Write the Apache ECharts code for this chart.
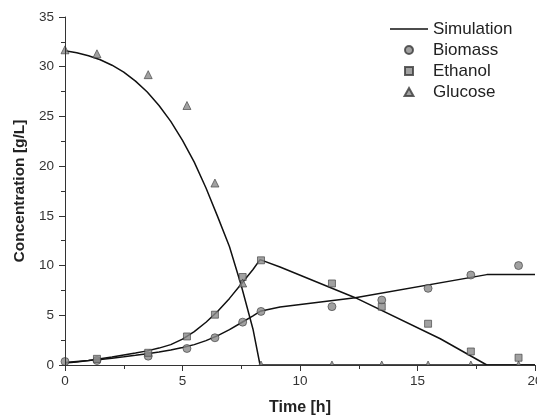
<!DOCTYPE html>
<html>
<head>
<meta charset="utf-8">
<script src="https://cdn.jsdelivr.net/npm/echarts@6/dist/echarts.min.js"></script>
<style>
html,body{margin:0;padding:0;background:#fff;}
#chart{width:537px;height:418px;}
</style>
</head>
<body>
<div id="chart"></div>
<script>
// Measured sample times [h]
var expTime = [0, 1.36, 3.54, 5.19, 6.38, 7.56, 8.34, 11.36, 13.48, 15.45, 17.27, 19.3];
var biomass = [0.35, 0.45, 0.89, 1.66, 2.74, 4.31, 5.39, 5.87, 6.53, 7.71, 9.05, 10.0];
var ethanol = [null, 0.62, 1.23, 2.87, 5.06, 8.85, 10.53, 8.2, 5.86, 4.15, 1.36, 0.73];
var glucose = [31.7, 31.3, 29.2, 26.1, 18.3, 8.25, 0, 0, 0, 0, 0, 0];

// Simulation curves (growth phase)
var simTimeGrowth = [0, 0.5, 1, 1.5, 2, 2.5, 3, 3.5, 4, 4.5, 5, 5.5, 6, 6.5, 7, 7.5, 8, 8.3];
var simGlucoseGrowth = [31.6, 31.4, 31.1, 30.7, 30.15, 29.45, 28.55, 27.45, 26.1, 24.5, 22.6, 20.4, 17.8, 14.9, 11.9, 8.0, 3.6, 0];
var simEthanolGrowth = [0.2, 0.3, 0.45, 0.62, 0.8, 1.0, 1.2, 1.42, 1.7, 2.05, 2.6, 3.35, 4.3, 5.4, 6.7, 8.15, 9.6, 10.6];
var simBiomassGrowth = [0.25, 0.35, 0.45, 0.56, 0.68, 0.82, 0.97, 1.13, 1.3, 1.5, 1.75, 2.05, 2.45, 2.95, 3.55, 4.25, 4.95, 5.4];

// Simulation after glucose depletion
var simTimeLateGlc = [8.3, 20];
var simGlucoseLate = [0, 0];
var simTimeLateEth = [8.3, 9.15, 12.35, 15.97, 17.95, 20];
var simEthanolLate = [10.6, 9.86, 6.77, 2.64, 0, 0];
var simTimeLateBio = [8.3, 9.15, 12.35, 17.95, 20];
var simBiomassLate = [5.4, 5.83, 6.77, 9.09, 9.09];

var xTicks = [0, 5, 10, 15, 20];
var yTicks = [0, 5, 10, 15, 20, 25, 30, 35];

function pairs(t, v) {
  var out = [];
  for (var i = 0; i < t.length; i++) {
    if (v[i] !== null && v[i] !== undefined) out.push([t[i], v[i]]);
  }
  return out;
}

var FONT = 'Liberation Sans, Arial, Helvetica, sans-serif';
var lineStyleSim = {color: '#111', width: 1.5};

function simSeries(t, v) {
  return {
    name: 'Simulation', type: 'line', data: pairs(t, v), showSymbol: false, symbol: 'none',
    smooth: false, lineStyle: lineStyleSim, itemStyle: {color: '#111'}, z: 2, silent: true
  };
}
var markerStyle = {color: '#8a8a8a', borderColor: '#3a3a3a', borderWidth: 0.8};

var chart = echarts.init(document.getElementById('chart'), null, {renderer: 'canvas'});
chart.setOption({
  animation: false,
  backgroundColor: '#fff',
  textStyle: {fontFamily: FONT},
  grid: {left: 65, right: 2, top: 17, bottom: 53, containLabel: false, outerBoundsMode: 'none'},
  legend: {
    left: 390, top: 20.5, padding: 0, orient: 'vertical', itemWidth: 38, itemHeight: 8, itemGap: 4,
    symbolKeepAspect: true,
    textStyle: {fontFamily: FONT, fontSize: 17, color: '#222', lineHeight: 17},
    data: [
      {name: 'Simulation', icon: 'path://M0,0L38,0L38,1.5L0,1.5Z', itemStyle: {color: '#111', borderWidth: 0}},
      {name: 'Biomass', icon: 'path://M5,0A5,5,0,1,1,4.99,0Z'},
      {name: 'Ethanol', icon: 'path://M0,0L9,0L9,9L0,9Z'},
      {name: 'Glucose', icon: 'path://M5,0L10,9L0,9Z'}
    ]
  },
  xAxis: {
    type: 'value', min: xTicks[0], max: xTicks[xTicks.length - 1], interval: 5, z: 10,
    name: 'Time [h]', nameLocation: 'middle', nameGap: 35,
    nameTextStyle: {fontFamily: FONT, fontSize: 16, fontWeight: 'bold', color: '#222'},
    axisLine: {show: true, lineStyle: {color: '#333', width: 1}},
    axisTick: {show: true, inside: false, length: 6, lineStyle: {color: '#333'}},
    minorTick: {show: true, splitNumber: 2, length: 4, lineStyle: {color: '#333'}},
    axisLabel: {fontFamily: FONT, fontSize: 13.5, color: '#333', margin: 9, showMaxLabel: true},
    splitLine: {show: false}
  },
  yAxis: {
    type: 'value', min: yTicks[0], max: yTicks[yTicks.length - 1], interval: 5, z: 10,
    name: 'Concentration [g/L]', nameLocation: 'middle', nameGap: 37,
    nameTextStyle: {fontFamily: FONT, fontSize: 15.5, fontWeight: 'bold', color: '#222'},
    axisLine: {show: true, lineStyle: {color: '#333', width: 1}},
    axisTick: {show: true, inside: false, length: 6, lineStyle: {color: '#333'}},
    minorTick: {show: true, splitNumber: 2, length: 4, lineStyle: {color: '#333'}},
    axisLabel: {fontFamily: FONT, fontSize: 13.5, color: '#333', margin: 11},
    splitLine: {show: false}
  },
  graphic: [{
    type: 'rect', z: 5, silent: true,
    left: 66, bottom: 44,
    shape: {width: 471, height: 8},
    style: {fill: '#fff'}
  }],
  series: [
    simSeries(simTimeGrowth, simGlucoseGrowth),
    simSeries(simTimeGrowth, simEthanolGrowth),
    simSeries(simTimeGrowth, simBiomassGrowth),
    simSeries(simTimeLateGlc, simGlucoseLate),
    simSeries(simTimeLateEth, simEthanolLate),
    simSeries(simTimeLateBio, simBiomassLate),
    {name: 'Biomass', type: 'scatter', symbol: 'circle', symbolSize: 8, data: pairs(expTime, biomass), itemStyle: markerStyle, z: 3},
    {name: 'Ethanol', type: 'scatter', symbol: 'rect', symbolSize: 7, data: pairs(expTime, ethanol), itemStyle: markerStyle, z: 3},
    {name: 'Glucose', type: 'scatter', symbol: 'triangle', symbolSize: 8, data: pairs(expTime, glucose), itemStyle: markerStyle, z: 3}
  ]
});
</script>
</body>
</html>
